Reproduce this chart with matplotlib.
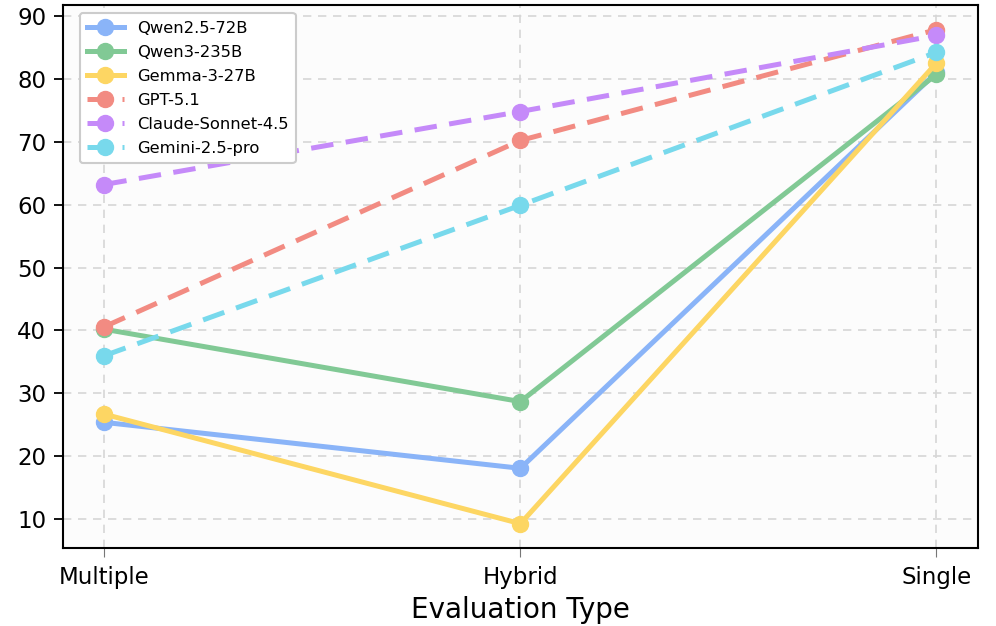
import matplotlib
matplotlib.use("Agg")
import matplotlib.pyplot as plt

categories = ["Multiple", "Hybrid", "Single"]
models = ["Qwen2.5-72B", "Qwen3-235B", "Gemma-3-27B", "GPT-5.1", "Claude-Sonnet-4.5", "Gemini-2.5-pro"]
qwen25 = [25.4, 18.1, 81.0]
qwen3 = [40.2, 28.7, 80.7]
gemma = [26.7, 9.3, 82.5]
gpt = [40.6, 70.2, 87.8]
claude = [63.2, 74.8, 86.9]
gemini = [36.0, 59.9, 84.2]
series = [qwen25, qwen3, gemma, gpt, claude, gemini]
colors = ["#8ab4f8", "#81c995", "#fdd663", "#f28b82", "#c58af9", "#78d9ec"]
styles = ["-", "-", "-", "--", "--", "--"]

fig = plt.figure(figsize=(9.96, 6.26), dpi=100)
ax = fig.add_axes([0.063, 0.124, 0.919, 0.868])
ax.set_facecolor("#fcfcfc")
x = list(range(len(categories)))
for name, vals, c, ls in zip(models, series, colors, styles):
    ax.plot(x, vals, ls, color=c, lw=3.6, marker="o", markersize=11.5, label=name,
            dashes=(4.5, 2.5) if ls == "--" else (None, None))

ax.set_xticks(x)
ax.set_xticklabels(categories, fontsize=16.5)
ax.tick_params(axis="y", labelsize=16.5, width=1.3, length=6.3, pad=5.5)
ax.tick_params(axis="x", width=0.8, length=6.3, pad=6.5, color="#777777")
ax.set_yticks([10, 20, 30, 40, 50, 60, 70, 80, 90])
ax.set_xlabel("Evaluation Type", fontsize=20, labelpad=5)
ax.grid(True, color="#d6d6d6", lw=1.2, dashes=(5, 4))
for s in ax.spines.values():
    s.set_linewidth(1.5)
    s.set_color("black")
leg = ax.legend(loc="upper left", fontsize=11.8, frameon=True, framealpha=1.0,
                edgecolor="#cccccc", borderpad=0.45, labelspacing=0.55, handlelength=2.2,
                borderaxespad=0.5, bbox_to_anchor=(0.01, 1.0))
leg.get_frame().set_linewidth(1.5)
fig.savefig("out.png", dpi=100)
